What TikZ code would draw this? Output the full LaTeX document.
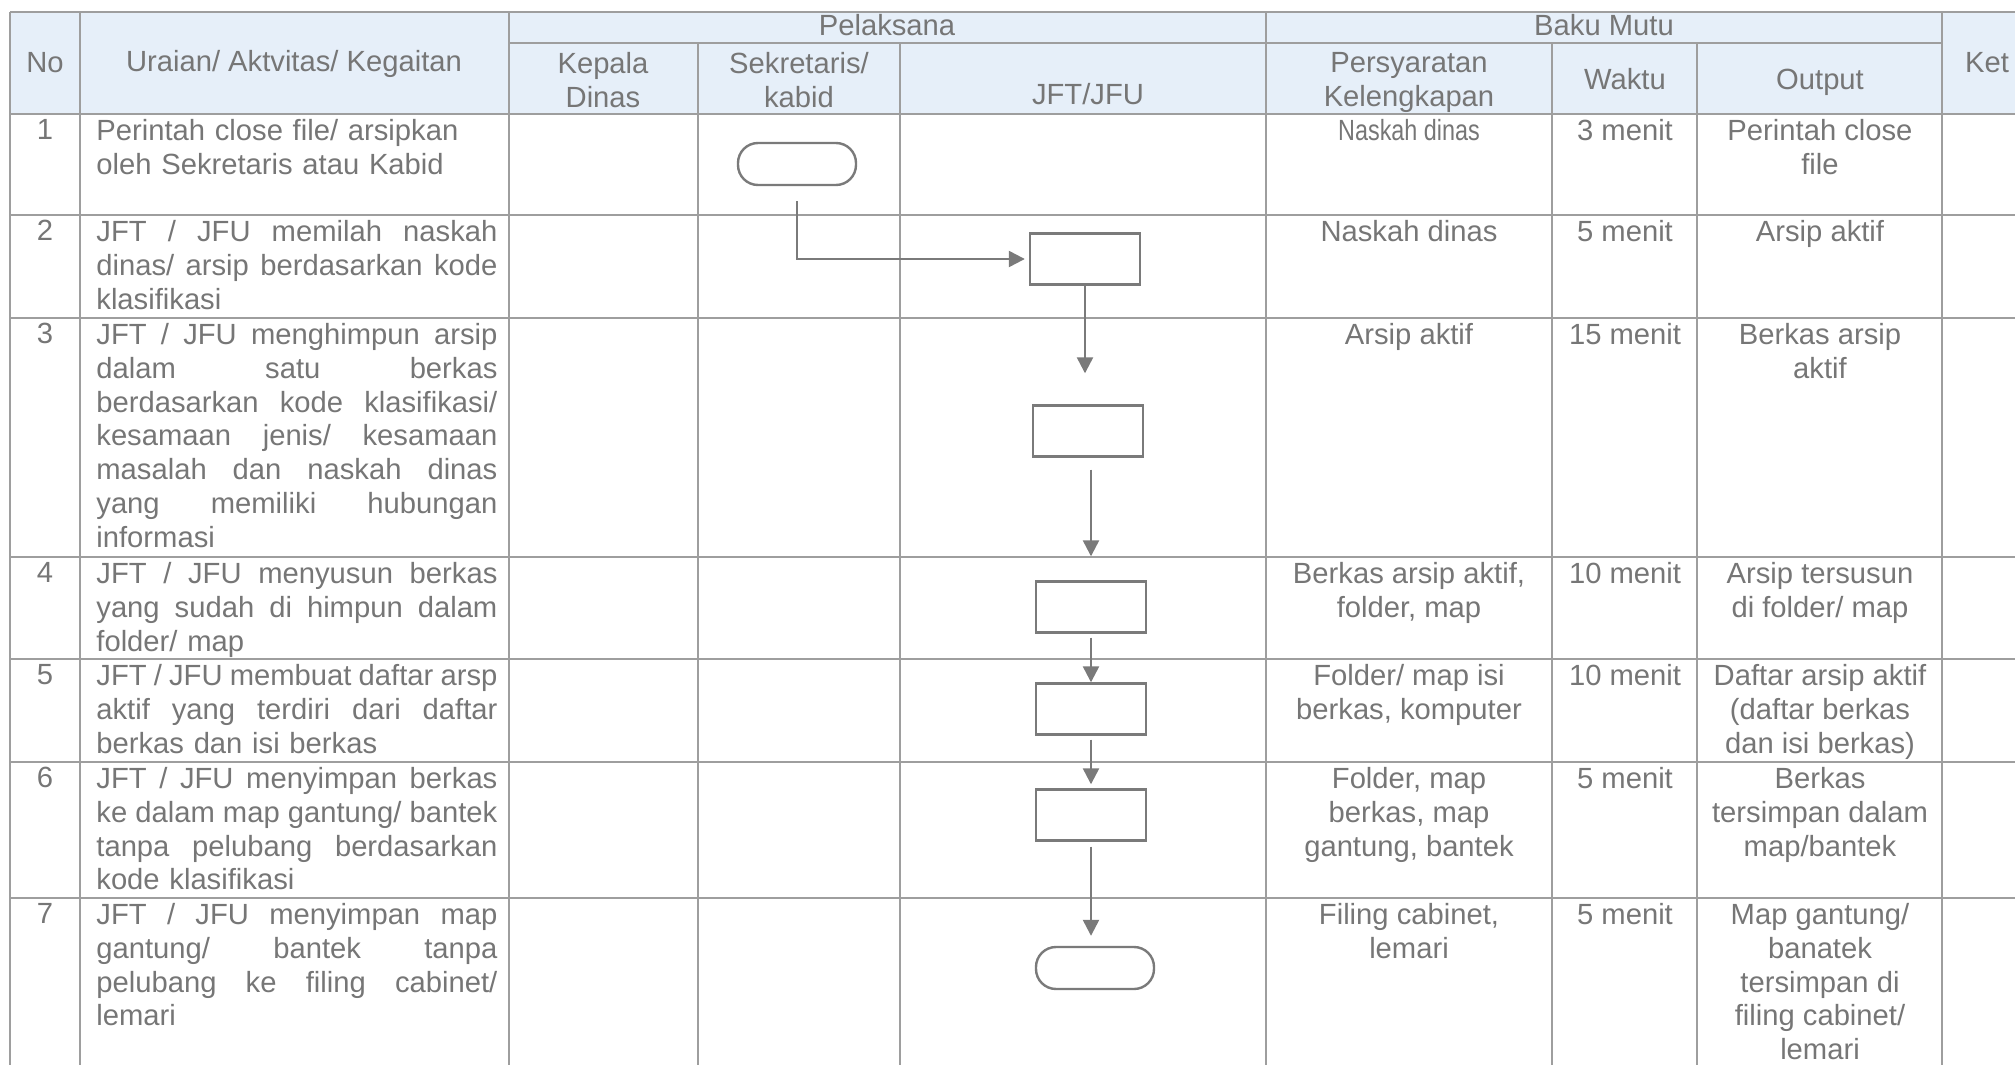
\documentclass[tikz,border=0pt]{standalone}
\usepackage{fontspec}
\setmainfont{Liberation Sans}
\usepackage{graphicx}
\usepackage{tikz}
\usetikzlibrary{arrows.meta}
\definecolor{textgrau}{RGB}{118,118,118}
\definecolor{liniengrau}{RGB}{158,158,158}
\definecolor{formgrau}{RGB}{122,122,122}
\definecolor{hellblau}{RGB}{230,239,249}
\setlength{\parindent}{0pt}
\setlength{\parskip}{0pt}
\hbadness=10000
\hfuzz=20pt
% Blocksatzzeile mit fester Breite
\newcommand{\zeile}[1]{\hbox to 200.5pt{\spaceskip=0.278em plus 1fil minus 0.09em\relax#1}\par}

\tikzset{
  linie/.style={liniengrau, line width=0.7pt},
  kopf/.style={textgrau, align=center, inner sep=0pt},
  uraian/.style={textgrau, anchor=north west, inner sep=0pt, text width=200.5pt},
  zelle/.style={textgrau, anchor=north, inner sep=0pt, align=center},
  proses/.style={draw=formgrau, line width=1.2pt, minimum width=55pt, minimum height=25.5pt, inner sep=0pt},
  terminal/.style={draw=formgrau, line width=1.2pt, rounded corners=10pt, minimum width=59pt, minimum height=21pt, inner sep=0pt},
  panah/.style={formgrau, line width=1.2pt, -{Triangle[length=8pt, width=8pt]}}
}

\begin{document}
\begin{tikzpicture}[x=0.5pt, y=-0.5pt, font=\fontsize{14.6}{16.9}\selectfont]
    \useasboundingbox (0,0) rectangle (2015,1065);
    \clip (0,0) rectangle (2015,1065);

    % Kopfzeile (Hintergrund)
    \fill[hellblau] (10,12) rectangle (2015,114);

    % Tabellenlinien waagerecht
    \draw[linie] (10,12) -- (2015,12);
    \draw[linie] (509,43) -- (1942,43);  % unter Pelaksana / Baku Mutu
    \draw[linie] (10,114) -- (2015,114);
    \draw[linie] (10,215) -- (2015,215);
    \draw[linie] (10,318) -- (2015,318);
    \draw[linie] (10,557) -- (2015,557);
    \draw[linie] (10,659) -- (2015,659);
    \draw[linie] (10,762) -- (2015,762);
    \draw[linie] (10,898) -- (2015,898);

    % Tabellenlinien senkrecht
    \draw[linie] (10,12) -- (10,1065);
    \draw[linie] (80,12) -- (80,1065);
    \draw[linie] (509,12) -- (509,1065);
    \draw[linie] (698,43) -- (698,1065);
    \draw[linie] (900,43) -- (900,1065);
    \draw[linie] (1266,12) -- (1266,1065);
    \draw[linie] (1552,43) -- (1552,1065);
    \draw[linie] (1697,43) -- (1697,1065);
    \draw[linie] (1942,12) -- (1942,1065);

    % Beschriftung Kopf
    \node[kopf, anchor=base] (kopfNo) at (45,73) {No};
    \node[kopf, anchor=base] (kopfUraian) at (294,72) {Uraian/ Aktvitas/ Kegaitan};
    \node[kopf, anchor=base] (kopfPelaksana) at (887,36) {Pelaksana};
    \node[kopf, anchor=north] (kopfKepala) at (603,52) {Kepala\\Dinas};
    \node[kopf, anchor=north] (kopfSekretaris) at (799,52) {Sekretaris/\\kabid};
    \node[kopf, anchor=base] (kopfJft) at (1088,105) {JFT/JFU};
    \node[kopf, anchor=base] (kopfBaku) at (1604,36) {Baku Mutu};
    \node[kopf, anchor=north] (kopfSyarat) at (1409,52) {Persyaratan\\Kelengkapan};
    \node[kopf, anchor=base] (kopfWaktu) at (1625,90) {Waktu};
    \node[kopf, anchor=base] (kopfOutput) at (1820,90) {Output};
    \node[kopf, anchor=base] (kopfKet) at (1987,73) {Ket};

    % Nummern
    \node[zelle] (no1) at (45,119) {1};
    \node[zelle] (no2) at (45,220) {2};
    \node[zelle] (no3) at (45,323) {3};
    \node[zelle] (no4) at (45,562) {4};
    \node[zelle] (no5) at (45,664) {5};
    \node[zelle] (no6) at (45,767) {6};
    \node[zelle] (no7) at (45,903) {7};

    % Uraian / Aktivitas
    \node[uraian] (uraian1) at (96,119) {Perintah close file/ arsipkan\\oleh Sekretaris atau Kabid};
    \node[uraian] (uraian2) at (96,220) {\zeile{JFT / JFU memilah naskah}\zeile{dinas/ arsip berdasarkan kode}klasifikasi};
    \node[uraian] (uraian3) at (96,323) {\zeile{JFT / JFU menghimpun arsip}\zeile{dalam satu berkas}\zeile{berdasarkan kode klasifikasi/}\zeile{kesamaan jenis/ kesamaan}\zeile{masalah dan naskah dinas}\zeile{yang memiliki hubungan}informasi};
    \node[uraian] (uraian4) at (96,562) {\zeile{JFT / JFU menyusun berkas}\zeile{yang sudah di himpun dalam}folder/ map};
    \node[uraian] (uraian5) at (96,664) {\zeile{JFT / JFU membuat daftar arsp}\zeile{aktif yang terdiri dari daftar}berkas dan isi berkas};
    \node[uraian] (uraian6) at (96,767) {\zeile{JFT / JFU menyimpan berkas}\zeile{ke dalam map gantung/ bantek}\zeile{tanpa pelubang berdasarkan}kode klasifikasi};
    \node[uraian] (uraian7) at (96,903) {\zeile{JFT / JFU menyimpan map}\zeile{gantung/ bantek tanpa}\zeile{pelubang ke filing cabinet/}lemari};

    % Baku Mutu
    \node[zelle] (syarat1) at (1409,119) {\scalebox{0.8}[1]{Naskah dinas}};
    \node[zelle] (waktu1) at (1625,119) {3 menit};
    \node[zelle] (hasil1) at (1820,119) {Perintah close\\file};

    \node[zelle] (syarat2) at (1409,220) {Naskah dinas};
    \node[zelle] (waktu2) at (1625,220) {5 menit};
    \node[zelle] (hasil2) at (1820,220) {Arsip aktif};

    \node[zelle] (syarat3) at (1409,323) {Arsip aktif};
    \node[zelle] (waktu3) at (1625,323) {15 menit};
    \node[zelle] (hasil3) at (1820,323) {Berkas arsip\\aktif};

    \node[zelle] (syarat4) at (1409,562) {Berkas arsip aktif,\\folder, map};
    \node[zelle] (waktu4) at (1625,562) {10 menit};
    \node[zelle] (hasil4) at (1820,562) {Arsip tersusun\\di folder/ map};

    \node[zelle] (syarat5) at (1409,664) {Folder/ map isi\\berkas, komputer};
    \node[zelle] (waktu5) at (1625,664) {10 menit};
    \node[zelle] (hasil5) at (1820,664) {Daftar arsip aktif\\(daftar berkas\\dan isi berkas)};

    \node[zelle] (syarat6) at (1409,767) {Folder, map\\berkas, map\\gantung, bantek};
    \node[zelle] (waktu6) at (1625,767) {5 menit};
    \node[zelle] (hasil6) at (1820,767) {Berkas\\tersimpan dalam\\map/bantek};

    \node[zelle] (syarat7) at (1409,903) {Filing cabinet,\\lemari};
    \node[zelle] (waktu7) at (1625,903) {5 menit};
    \node[zelle] (hasil7) at (1820,903) {Map gantung/\\banatek\\tersimpan di\\filing cabinet/\\lemari};

    % Ablaufdiagramm
    \node[terminal] (mulai) at (797,164) {};
    \node[proses] (proses2) at (1085,259) {};
    \node[proses] (proses3) at (1088,431) {};
    \node[proses] (proses4) at (1091,607) {};
    \node[proses] (proses5) at (1091,709) {};
    \node[proses] (proses6) at (1091,815) {};
    \node[terminal] (selesai) at (1095,968) {};

    % Pfeile
    \draw[panah, shorten <=7.5pt, shorten >=2pt] (mulai.south) |- (proses2.west);
    \draw[panah, shorten >=15.5pt] (proses2.south) -- (proses2.south |- proses3.north);
    \draw[panah, shorten <=6pt, shorten >=12pt] (proses3.south -| proses4.north) -- (proses4.north);
    \draw[panah, shorten <=2pt] (proses4) -- (proses5);
    \draw[panah, shorten <=2pt, shorten >=2pt] (proses5) -- (proses6);
    \draw[panah, shorten <=2.5pt, shorten >=5pt] (proses6.south) -- (proses6.south |- selesai.north);
\end{tikzpicture}
\end{document}
